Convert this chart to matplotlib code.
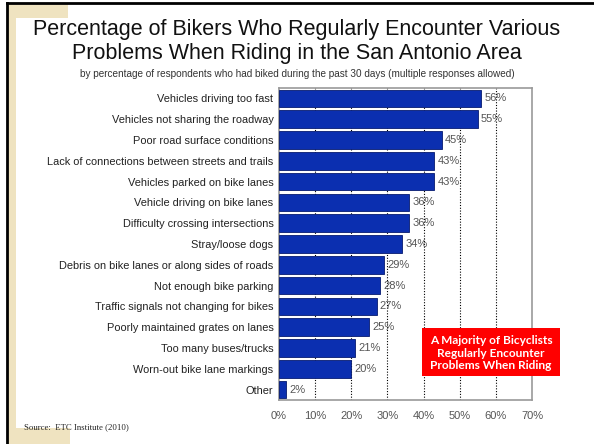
import matplotlib
matplotlib.use("Agg")
import matplotlib.pyplot as plt
from matplotlib.patches import Rectangle

categories = [
    "Vehicles driving too fast",
    "Vehicles not sharing the roadway",
    "Poor road surface conditions",
    "Lack of connections between streets and trails",
    "Vehicles parked on bike lanes",
    "Vehicle driving on bike lanes",
    "Difficulty crossing intersections",
    "Stray/loose dogs",
    "Debris on bike lanes or along sides of roads",
    "Not enough bike parking",
    "Traffic signals not changing for bikes",
    "Poorly maintained grates on lanes",
    "Too many buses/trucks",
    "Worn-out bike lane markings",
    "Other",
]
values = [56, 55, 45, 43, 43, 36, 36, 34, 29, 28, 27, 25, 21, 20, 2]
xticks = [0, 10, 20, 30, 40, 50, 60, 70]
xtick_labels = ["0%", "10%", "20%", "30%", "40%", "50%", "60%", "70%"]

W, H = 594, 444
fig = plt.figure(figsize=(W / 100, H / 100), dpi=100)
fig.patch.set_facecolor("white")

# slide decoration
bg = fig.add_axes([0, 0, 1, 1], zorder=-10)
bg.set_xlim(0, W); bg.set_ylim(H, 0); bg.axis("off")
bg.add_patch(Rectangle((8, 4), 60, 14, color="#efe3c0", lw=0))
bg.add_patch(Rectangle((8, 4), 8, 440, color="#efe3c0", lw=0))
bg.add_patch(Rectangle((8, 428), 62, 16, color="#efe3c0", lw=0))
bg.plot([7, W], [3, 3], color="black", lw=2)
bg.plot([7, 7], [3, H], color="black", lw=2)

ax = fig.add_axes([279 / W, 1 - 400 / H, 253 / W, 312 / H])
y = list(range(len(categories)))
ax.barh(y, values, height=0.84, color="#0b2fb0", edgecolor="#061a70", lw=0.6, zorder=3)
ax.set_ylim(len(categories) - 0.5, -0.5)
ax.set_xlim(0, 70)
ax.set_yticks(y)
ax.set_yticklabels(categories, fontsize=7.9, color="#222222", family="Liberation Sans")
ax.set_xticks(xticks)
ax.set_xticklabels(xtick_labels, fontsize=8, color="#555555", family="Liberation Sans")
ax.tick_params(length=0, pad=4)
ax.tick_params(axis="x", pad=8)
for x in xticks[1:-1]:
    ax.axvline(x, color="black", ls=(0, (1, 1.5)), lw=0.8, zorder=1)
for s in ax.spines.values():
    s.set_color("#999999")
    s.set_linewidth(1.2)
for yi, v in zip(y, values):
    ax.text(v + 0.9, yi, f"{v}%", va="center", ha="left", fontsize=8,
            color="#555555", family="Liberation Sans", zorder=4)

fig.text(0.5, 1 - 30 / H, "Percentage of Bikers Who Regularly Encounter Various",
         ha="center", va="center", fontsize=15.5, color="#111111", family="Liberation Sans")
fig.text(0.5, 1 - 53 / H, "Problems When Riding in the San Antonio Area",
         ha="center", va="center", fontsize=15.5, color="#111111", family="Liberation Sans")
fig.text(0.5, 1 - 74 / H,
         "by percentage of respondents who had biked during the past 30 days (multiple responses allowed)",
         ha="center", va="center", fontsize=7.2, color="#333333", family="Liberation Sans")

# red callout box (overlay on top of the chart)
ov = fig.add_axes([0, 0, 1, 1], zorder=10)
ov.set_xlim(0, W); ov.set_ylim(H, 0); ov.axis("off")
ov.patch.set_alpha(0)
ov.add_patch(Rectangle((422, 328), 138, 48, color="#ff0000", lw=0))
ov.text(491, 353, "A Majority of Bicyclists\nRegularly Encounter\nProblems When Riding",
        ha="center", va="center", fontsize=8.6, color="white", fontweight="bold",
        family="Lato", linespacing=1.15)

fig.text(24 / W, 1 - 427 / H, "Source:  ETC Institute (2010)", ha="left", va="center",
         fontsize=6.3, color="#222222", family="Liberation Serif")

fig.savefig("out.png", dpi=100)
